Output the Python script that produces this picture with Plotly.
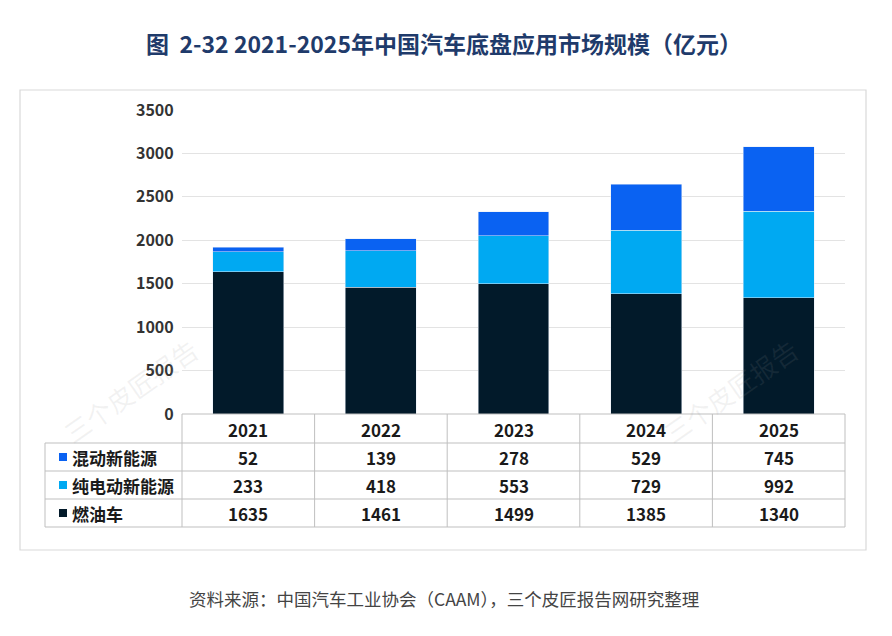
import plotly.graph_objects as go

years = ["2021", "2022", "2023", "2024", "2025"]
series_names = ["燃油车", "纯电动新能源", "混动新能源"]
fuel = [1635, 1461, 1499, 1385, 1340]
ev = [233, 418, 553, 729, 992]
hybrid = [52, 139, 278, 529, 745]
colors = ["#021a2a", "#00a9f2", "#0a62f2"]

W, H = 892, 636
OFF = 8
L, R, T, B = 182 - OFF, 845 - OFF, 110 - OFF, 414 - OFF
def px(x): return (x - OFF - L) / (R - L)
def py(y): return (B - (y - OFF)) / (B - T)

fig = go.Figure()
for name, vals, c in zip(series_names, [fuel, ev, hybrid], colors):
    fig.add_bar(x=years, y=vals, name=name, marker_color=c, width=0.535, showlegend=False)

shapes, ann = [], []
def A(text, x, y, font, xanchor="center"):
    ann.append(dict(text=text, x=x, y=y, xref="paper", yref="paper", xanchor=xanchor, yanchor="middle", showarrow=False, font=font))

line = dict(color="#bfbfbf", width=1)
shapes.append(dict(type="rect", xref="paper", yref="paper", x0=px(20), x1=px(866), y0=py(90), y1=py(550), line=dict(color="#d9d9d9", width=1.2)))
rows_y = [414, 443, 471, 499, 527]
for i, yy in enumerate(rows_y):
    x0 = 182 if i == 0 else 45
    shapes.append(dict(type="line", xref="paper", yref="paper", x0=px(x0), x1=px(845), y0=py(yy), y1=py(yy), line=line))
colx = [182 + k * (845 - 182) / 5 for k in range(6)]
for xx in colx:
    shapes.append(dict(type="line", xref="paper", yref="paper", x0=px(xx), x1=px(xx), y0=py(414), y1=py(527), line=line))
shapes.append(dict(type="line", xref="paper", yref="paper", x0=px(45), x1=px(45), y0=py(443), y1=py(527), line=line))

fnt = dict(family="Noto Sans CJK SC", size=17, color="#1a1a1a")
for k, yname in enumerate(years):
    A(f"<b>{yname}</b>", px((colx[k] + colx[k + 1]) / 2), py(429), fnt)
table_rows = [("混动新能源", hybrid, colors[2]), ("纯电动新能源", ev, colors[1]), ("燃油车", fuel, colors[0])]
for r, (nm, vals, c) in enumerate(table_rows):
    yc = (rows_y[r + 1] + rows_y[r + 2]) / 2
    shapes.append(dict(type="rect", xref="paper", yref="paper", x0=px(59), x1=px(67), y0=py(yc + 4), y1=py(yc - 4), fillcolor=c, line=dict(width=0)))
    A(f"<b>{nm}</b>", px(70), py(yc), fnt, "left")
    for k, v in enumerate(vals):
        A(f"<b>{v}</b>", px((colx[k] + colx[k + 1]) / 2), py(yc), fnt)

A("<b>图  2-32 2021-2025年中国汽车底盘应用市场规模（亿元）</b>", px(444), py(43), dict(family="Noto Sans CJK SC", size=23, color="#1f3b6b"))
A("资料来源：中国汽车工业协会（CAAM），三个皮匠报告网研究整理", px(444), py(598), dict(family="Noto Sans CJK SC", size=17.5, color="#444"))
for (wx, wy) in [(130, 390), (730, 390)]:
    ann.append(dict(text="三个皮匠报告", x=px(wx), y=py(wy), xref="paper", yref="paper", xanchor="center", yanchor="middle", showarrow=False, textangle=-35, font=dict(family="Noto Sans CJK SC", size=26, color="rgba(150,150,150,0.12)")))

fig.update_layout(
    barmode="stack", width=W, height=H, margin=dict(l=L, r=W - R, t=T, b=H - B),
    plot_bgcolor="white", paper_bgcolor="white",
    shapes=shapes, annotations=ann,
    xaxis=dict(showticklabels=False, showline=False),
    yaxis=dict(range=[0, 3500], dtick=500, gridcolor="#e3e3e3", zeroline=False,
               tickfont=dict(family="Noto Sans CJK SC", size=16, color="#333"), ticksuffix="  ",
               tickprefix="<b>", showline=False),
)
fig.write_html("out.html")
